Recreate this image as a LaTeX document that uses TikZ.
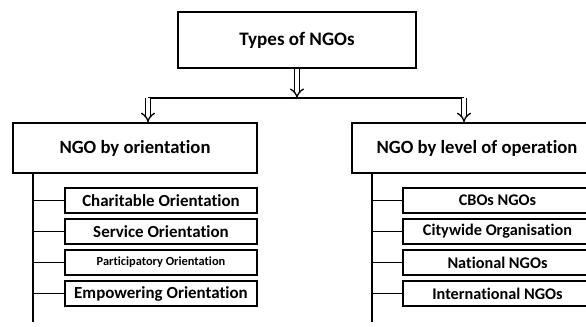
\documentclass[tikz,border=0pt]{standalone}
\usepackage{fontspec}
\setmainfont{Carlito}[Ligatures=CommonOff]
\usetikzlibrary{arrows.meta,positioning}
\tikzset{
  topbox/.style={draw, line width=1.1pt, minimum width=178.5pt, minimum height=42pt, font=\fontsize{14.3}{16}\selectfont\bfseries},
  headbox/.style={draw, line width=1.1pt, minimum height=37.5pt, font=\fontsize{14}{16}\selectfont\bfseries},
  kidbox/.style={draw, line width=1.1pt, minimum height=19pt, inner sep=1pt},
  twoarr/.style={double, double distance=2.6pt, line width=1pt, -{Implies[length=6pt,width=11pt]}},
  barline/.style={line width=1.5pt},
  spine/.style={line width=1.6pt},
  twig/.style={line width=0.6pt},
}
\begin{document}
\begin{tikzpicture}[x=0.75pt,y=-0.75pt]
\useasboundingbox (0,0) rectangle (586,326);
\clip (0,0) rectangle (586,326);
% top level
\node[topbox] (types) at (297,40) {Types of NGOs};
\node[headbox, minimum width=183pt] (orient) at (135,148) {NGO by orientation};
\node[headbox, minimum width=187.5pt] (level) at (477,148) {NGO by level of operation};
\coordinate (bar) at (297,98);
\coordinate (barL) at (148,98);
\coordinate (barR) at (464,98);
\draw[twoarr] (types) -- (bar);
\draw[barline] (barL) -- (barR);
\draw[twoarr] (barL) -- (barL |- orient.north);
\draw[twoarr] (barR) -- (barR |- level.north);
% orientation branch
\coordinate (spineL) at (33,322);
\draw[spine] (spineL |- orient.south) -- (spineL);
\foreach \txt/\fs [count=\i] in {Charitable Orientation/12.7, Service Orientation/12.7,
    Participatory Orientation/9.3, Empowering Orientation/12.7}{
  \node[kidbox, minimum width=144pt, font=\fontsize{\fs}{12}\selectfont\bfseries]
    (orient\i) at (161,{200.5+31*(\i-1)}) {\txt};
  \draw[twig] (spineL |- orient\i.west) -- (orient\i.west);
}
% level branch
\coordinate (spineR) at (372,322);
\draw[spine] (spineR |- level.south) -- (spineR);
\foreach \txt [count=\i] in {CBOs NGOs, Citywide Organisation, National NGOs, International NGOs}{
  \node[kidbox, minimum width=141.75pt, font=\fontsize{12.2}{12}\selectfont\bfseries]
    (level\i) at (497.5,{200.5+31*(\i-1)}) {\txt};
  \draw[twig] (spineR |- level\i.west) -- (level\i.west);
}
\end{tikzpicture}
\end{document}
